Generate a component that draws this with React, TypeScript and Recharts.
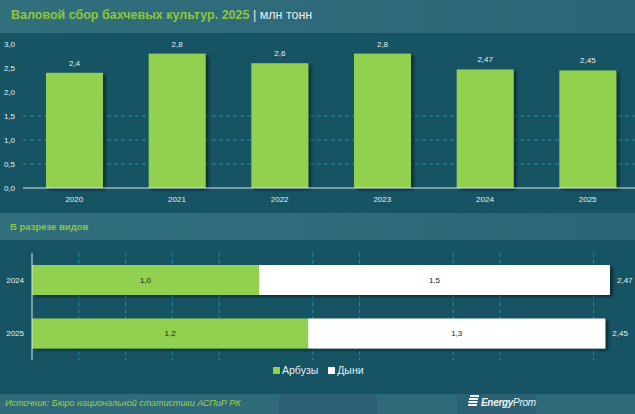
import { Bar, BarChart, CartesianGrid, LabelList, XAxis, YAxis } from 'recharts'

const years = ['2020', '2021', '2022', '2023', '2024', '2025']
const harvest = [2.4, 2.8, 2.6, 2.8, 2.47, 2.45]
const harvestTicks = [0, 0.5, 1, 1.5, 2, 2.5, 3]
const harvestGrid = [0.5, 1, 1.5]

const splitYears = ['2024', '2025']
const watermelons = [0.97, 1.18]
const melons = [1.5, 1.27]
const splitTotals = [2.47, 2.45]
const splitGrid = [0.2, 0.4, 0.6, 0.8, 1.2, 1.4, 1.8, 2.0, 2.4]
const seriesNames = ['Арбузы', 'Дыни']

const GREEN = '#92d050'
const BG = '#165463'
const BAND = '#2f6b7a'
const GRID = '#2b88a2'
const TEXT = '#e8eff1'
const FONT = '"Liberation Sans", Arial, sans-serif'

const comma = (v: number) => String(v).replace('.', ',')
const comma1 = (v: number) => v.toFixed(1).replace('.', ',')

const topData = years.map((year, i) => ({ year, value: harvest[i] }))
const splitData = splitYears.map((year, i) => ({
  year,
  watermelon: watermelons[i],
  melon: melons[i],
  total: splitTotals[i],
}))

function ShadowBar(props: any) {
  const { x, y, width, height, fill } = props
  if (!width || !height) return null
  return <rect x={x} y={y} width={width} height={height} fill={fill} filter="url(#barShadow)" />
}

export default function App() {
  return (
    <div
      style={{
        position: 'absolute',
        left: 0,
        top: 0,
        width: 635,
        height: 414,
        overflow: 'hidden',
        background: BG,
        fontFamily: FONT,
      }}
    >
      <svg width={0} height={0} style={{ position: 'absolute' }}>
        <defs>
          <filter id="barShadow" x="-10%" y="-10%" width="130%" height="140%">
            <feDropShadow dx="3" dy="2" stdDeviation="1.5" floodColor="#000" floodOpacity="0.45" />
          </filter>
        </defs>
      </svg>

      {/* header */}
      <div
        style={{
          position: 'absolute',
          left: 0,
          top: 0,
          width: 635,
          height: 33,
          background: 'linear-gradient(90deg, #316f7d, #2c6575)',
        }}
      />
      <div style={{ position: 'absolute', left: 11, top: 8, fontSize: 12.5, fontWeight: 700, whiteSpace: 'nowrap' }}>
        <span style={{ color: '#8cc63f' }}>Валовой сбор бахчевых культур. 2025</span>
        <span style={{ color: TEXT, fontWeight: 400 }}> | млн тонн</span>
      </div>

      <div style={{ position: 'absolute', left: 0, top: 33 }}>
        <BarChart width={645} height={180} data={topData} margin={{ top: 11, right: 6, left: 0, bottom: 5 }}>
          <CartesianGrid vertical={false} horizontalValues={harvestGrid} stroke={GRID} strokeDasharray="4 3" />
          <XAxis
            dataKey="year"
            height={20}
            tickLine={false}
            axisLine={{ stroke: '#dce6e9' }}
            tick={{ fill: TEXT, fontSize: 8 }}
          />
          <YAxis
            domain={[0, 3]}
            ticks={harvestTicks}
            width={23}
            axisLine={false}
            tickLine={false}
            tick={{ fill: TEXT, fontSize: 8 }}
            tickFormatter={comma1}
          />
          <Bar dataKey="value" fill={GREEN} barSize={57} shape={ShadowBar} isAnimationActive={false}>
            <LabelList dataKey="value" position="top" offset={7} fill={TEXT} fontSize={8} formatter={(v: any) => comma(v)} />
          </Bar>
        </BarChart>
      </div>

      {/* section band */}
      <div
        style={{
          position: 'absolute',
          left: 0,
          top: 213,
          width: 635,
          height: 27,
          background: 'linear-gradient(90deg, #316f7d, #2c6575)',
        }}
      />
      <div
        style={{
          position: 'absolute',
          left: 10,
          top: 221,
          fontSize: 9.5,
          fontWeight: 700,
          color: '#8cc63f',
          whiteSpace: 'nowrap',
        }}
      >
        В разрезе видов
      </div>

      <div style={{ position: 'absolute', left: 0, top: 240 }}>
        <BarChart
          layout="vertical"
          width={635}
          height={120}
          data={splitData}
          margin={{ top: 13, right: 18, left: 0, bottom: 0 }}
          barSize={30}
        >
          <CartesianGrid horizontal={false} verticalValues={splitGrid} stroke={GRID} strokeDasharray="4 3" />
          <XAxis type="number" domain={[0, 2.5]} hide />
          <YAxis
            type="category"
            dataKey="year"
            width={32}
            tickLine={false}
            axisLine={{ stroke: '#dce6e9' }}
            tick={{ fill: TEXT, fontSize: 8 }}
          />
          <Bar dataKey="watermelon" stackId="s" fill={GREEN} shape={ShadowBar} isAnimationActive={false}>
            <LabelList dataKey="watermelon" position="center" fill="#1b1b1b" fontSize={8} formatter={(v: any) => comma1(v)} />
          </Bar>
          <Bar dataKey="melon" stackId="s" fill="#ffffff" shape={ShadowBar} isAnimationActive={false}>
            <LabelList dataKey="melon" position="center" fill="#1b1b1b" fontSize={8} formatter={(v: any) => comma1(v)} />
            <LabelList dataKey="total" position="right" offset={7} fill={TEXT} fontSize={8} formatter={(v: any) => comma(v)} />
          </Bar>
        </BarChart>
      </div>

      {/* legend */}
      <div
        style={{
          position: 'absolute',
          left: 273,
          top: 364,
          display: 'flex',
          alignItems: 'center',
          fontSize: 10.5,
          color: TEXT,
          whiteSpace: 'nowrap',
        }}
      >
        <span style={{ width: 7, height: 7, background: GREEN, marginRight: 2 }} />
        <span style={{ marginRight: 10 }}>{seriesNames[0]}</span>
        <span style={{ width: 7, height: 7, background: '#fff', marginRight: 2 }} />
        <span>{seriesNames[1]}</span>
      </div>

      {/* footer */}
      <div style={{ position: 'absolute', left: 0, top: 394, width: 635, height: 20, background: '#2f6a79' }} />
      <div style={{ position: 'absolute', left: 279, top: 394, width: 98, height: 20, background: '#2b6172' }} />
      <div style={{ position: 'absolute', left: 457, top: 394, width: 79, height: 20, background: '#2b6172' }} />
      <div
        style={{
          position: 'absolute',
          left: 5,
          top: 398,
          fontSize: 9,
          fontStyle: 'italic',
          color: '#9ccf4e',
          whiteSpace: 'nowrap',
        }}
      >
        Источник: Бюро национальной статистики АСПиР РК
      </div>
      <svg style={{ position: 'absolute', left: 468, top: 395 }} width={11} height={11}>
        <rect x={2} y={0} width={9} height={2} fill="#f2f5f6" />
        <rect x={1} y={3} width={9} height={2} fill="#f2f5f6" />
        <rect x={0.5} y={6} width={9} height={2} fill="#f2f5f6" />
        <rect x={0} y={9} width={9} height={2} fill="#f2f5f6" />
      </svg>
      <div
        style={{
          position: 'absolute',
          left: 481,
          top: 397,
          fontSize: 10,
          fontStyle: 'italic',
          color: '#f2f5f6',
          whiteSpace: 'nowrap',
          letterSpacing: -0.3,
        }}
      >
        <span style={{ fontWeight: 700 }}>Energy</span>
        <span>Prom</span>
      </div>
    </div>
  )
}
